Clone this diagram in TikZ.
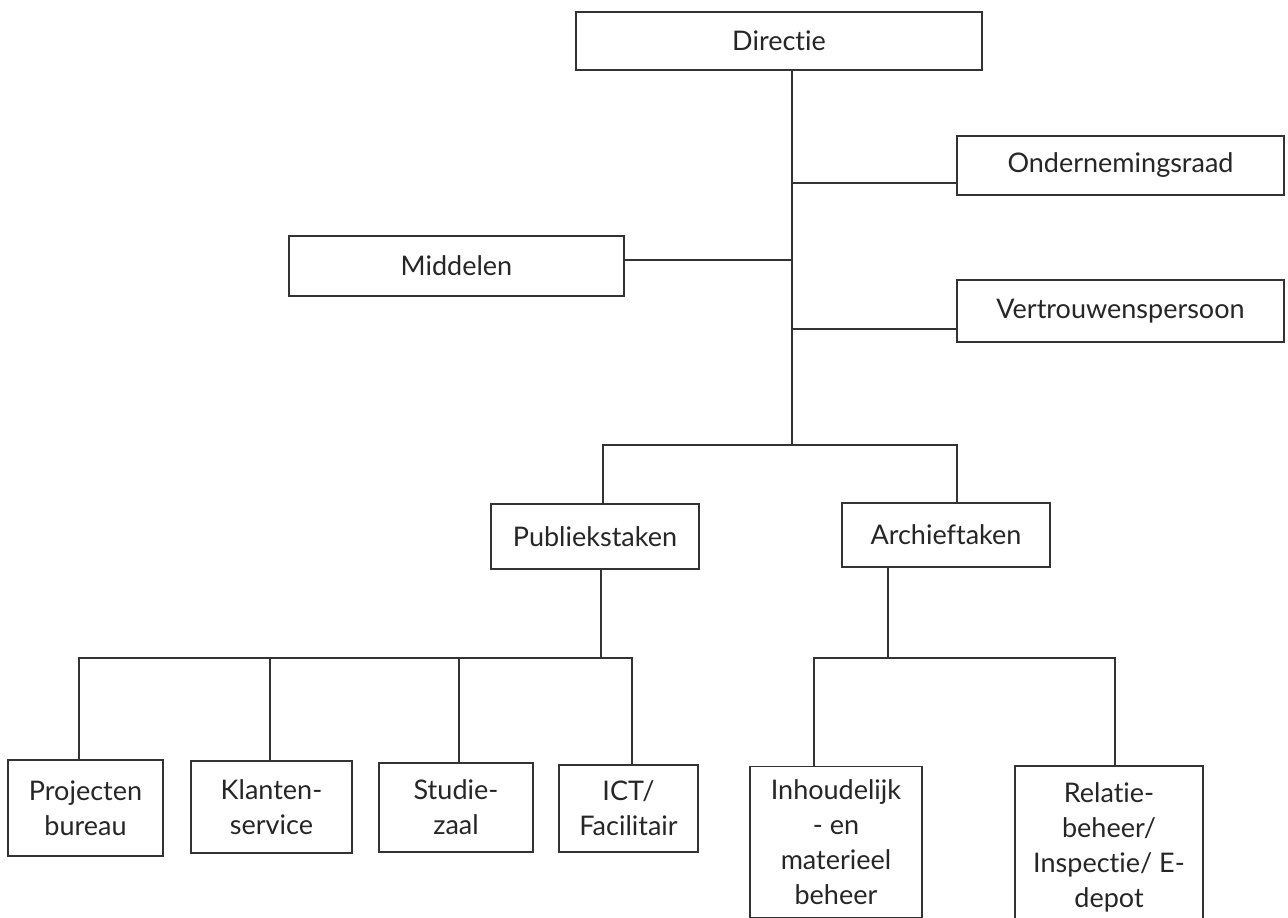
\documentclass[tikz,border=0pt]{standalone}
\usepackage{fontspec}
\setmainfont[Ligatures={NoCommon,NoRequired,NoContextual}]{Lato}
\begin{document}
\begin{tikzpicture}[x=1pt,y=-1pt,
  box/.style={draw=black!80,line width=1.8pt,fill=white,inner sep=0pt,align=center,
    font=\fontsize{27}{35}\selectfont,text=black!85},
  conn/.style={draw=black!80,line width=1.8pt}]
\useasboundingbox (0,0) rectangle (1288,918);
% boxes
\node[box,minimum width=406pt,minimum height=58pt] (dir) at (779,41) {Directie};
\node[box,minimum width=327pt,minimum height=59pt] (ond) at (1120.5,165.5) {Ondernemingsraad};
\node[box,minimum width=327pt,minimum height=62pt] (ver) at (1120.5,311) {Vertrouwenspersoon};
\node[box,minimum width=335pt,minimum height=60pt] (mid) at (456.5,266) {Middelen};
\node[box,minimum width=208pt,minimum height=65pt] (pub) at (595,536.5) {Publiekstaken};
\node[box,minimum width=208pt,minimum height=64pt] (arc) at (946,535) {Archieftaken};
\node[box,minimum width=155pt,minimum height=96pt] (proj) at (85.5,808) {Projecten\\bureau};
\node[box,minimum width=161pt,minimum height=92pt] (klan) at (271.5,807) {Klanten-\\service};
\node[box,minimum width=154pt,minimum height=89pt] (stud) at (456,807.5) {Studie-\\zaal};
\node[box,minimum width=139pt,minimum height=87pt] (ict) at (628.5,808.5) {ICT/\\Facilitair};
\node[box,minimum width=172pt,minimum height=151pt] (inh) at (836,842) {Inhoudelijk\\- en\\materieel\\beheer};
\node[box,minimum width=188pt,minimum height=162pt] (rel) at (1109,847) {Relatie-\\beheer/\\Inspectie/ E-\\depot};
% junctions
\coordinate (jtop) at (792,70);
\coordinate (jo) at (792,183);
\coordinate (jm) at (792,260);
\coordinate (jv) at (792,329);
\coordinate (jb) at (792,445);
\coordinate (bl) at (603,445);
\coordinate (br) at (957,445);
\coordinate (pdown) at (601,658);
\coordinate (pl) at (79,658);
\coordinate (pk) at (270,658);
\coordinate (ps) at (459,658);
\coordinate (pr) at (632,658);
\coordinate (adown) at (888,658);
\coordinate (al) at (814,658);
\coordinate (ar) at (1115,658);
% connectors
\draw[conn] (jtop) -- (jb);
\draw[conn] (jo) -- (jo -| ond.west);
\draw[conn] (jm) -- (jm -| mid.east);
\draw[conn] (jv) -- (jv -| ver.west);
\draw[conn] (pub.north -| bl) -- (bl) -- (br) -- (arc.north -| br);
\draw[conn] (pub.south -| pdown) -- (pdown);
\draw[conn] (proj.north -| pl) -- (pl) -- (pr) -- (ict.north -| pr);
\draw[conn] (pk) -- (klan.north -| pk);
\draw[conn] (ps) -- (stud.north -| ps);
\draw[conn] (arc.south -| adown) -- (adown);
\draw[conn] (inh.north -| al) -- (al) -- (ar) -- (rel.north -| ar);
\end{tikzpicture}
\end{document}
